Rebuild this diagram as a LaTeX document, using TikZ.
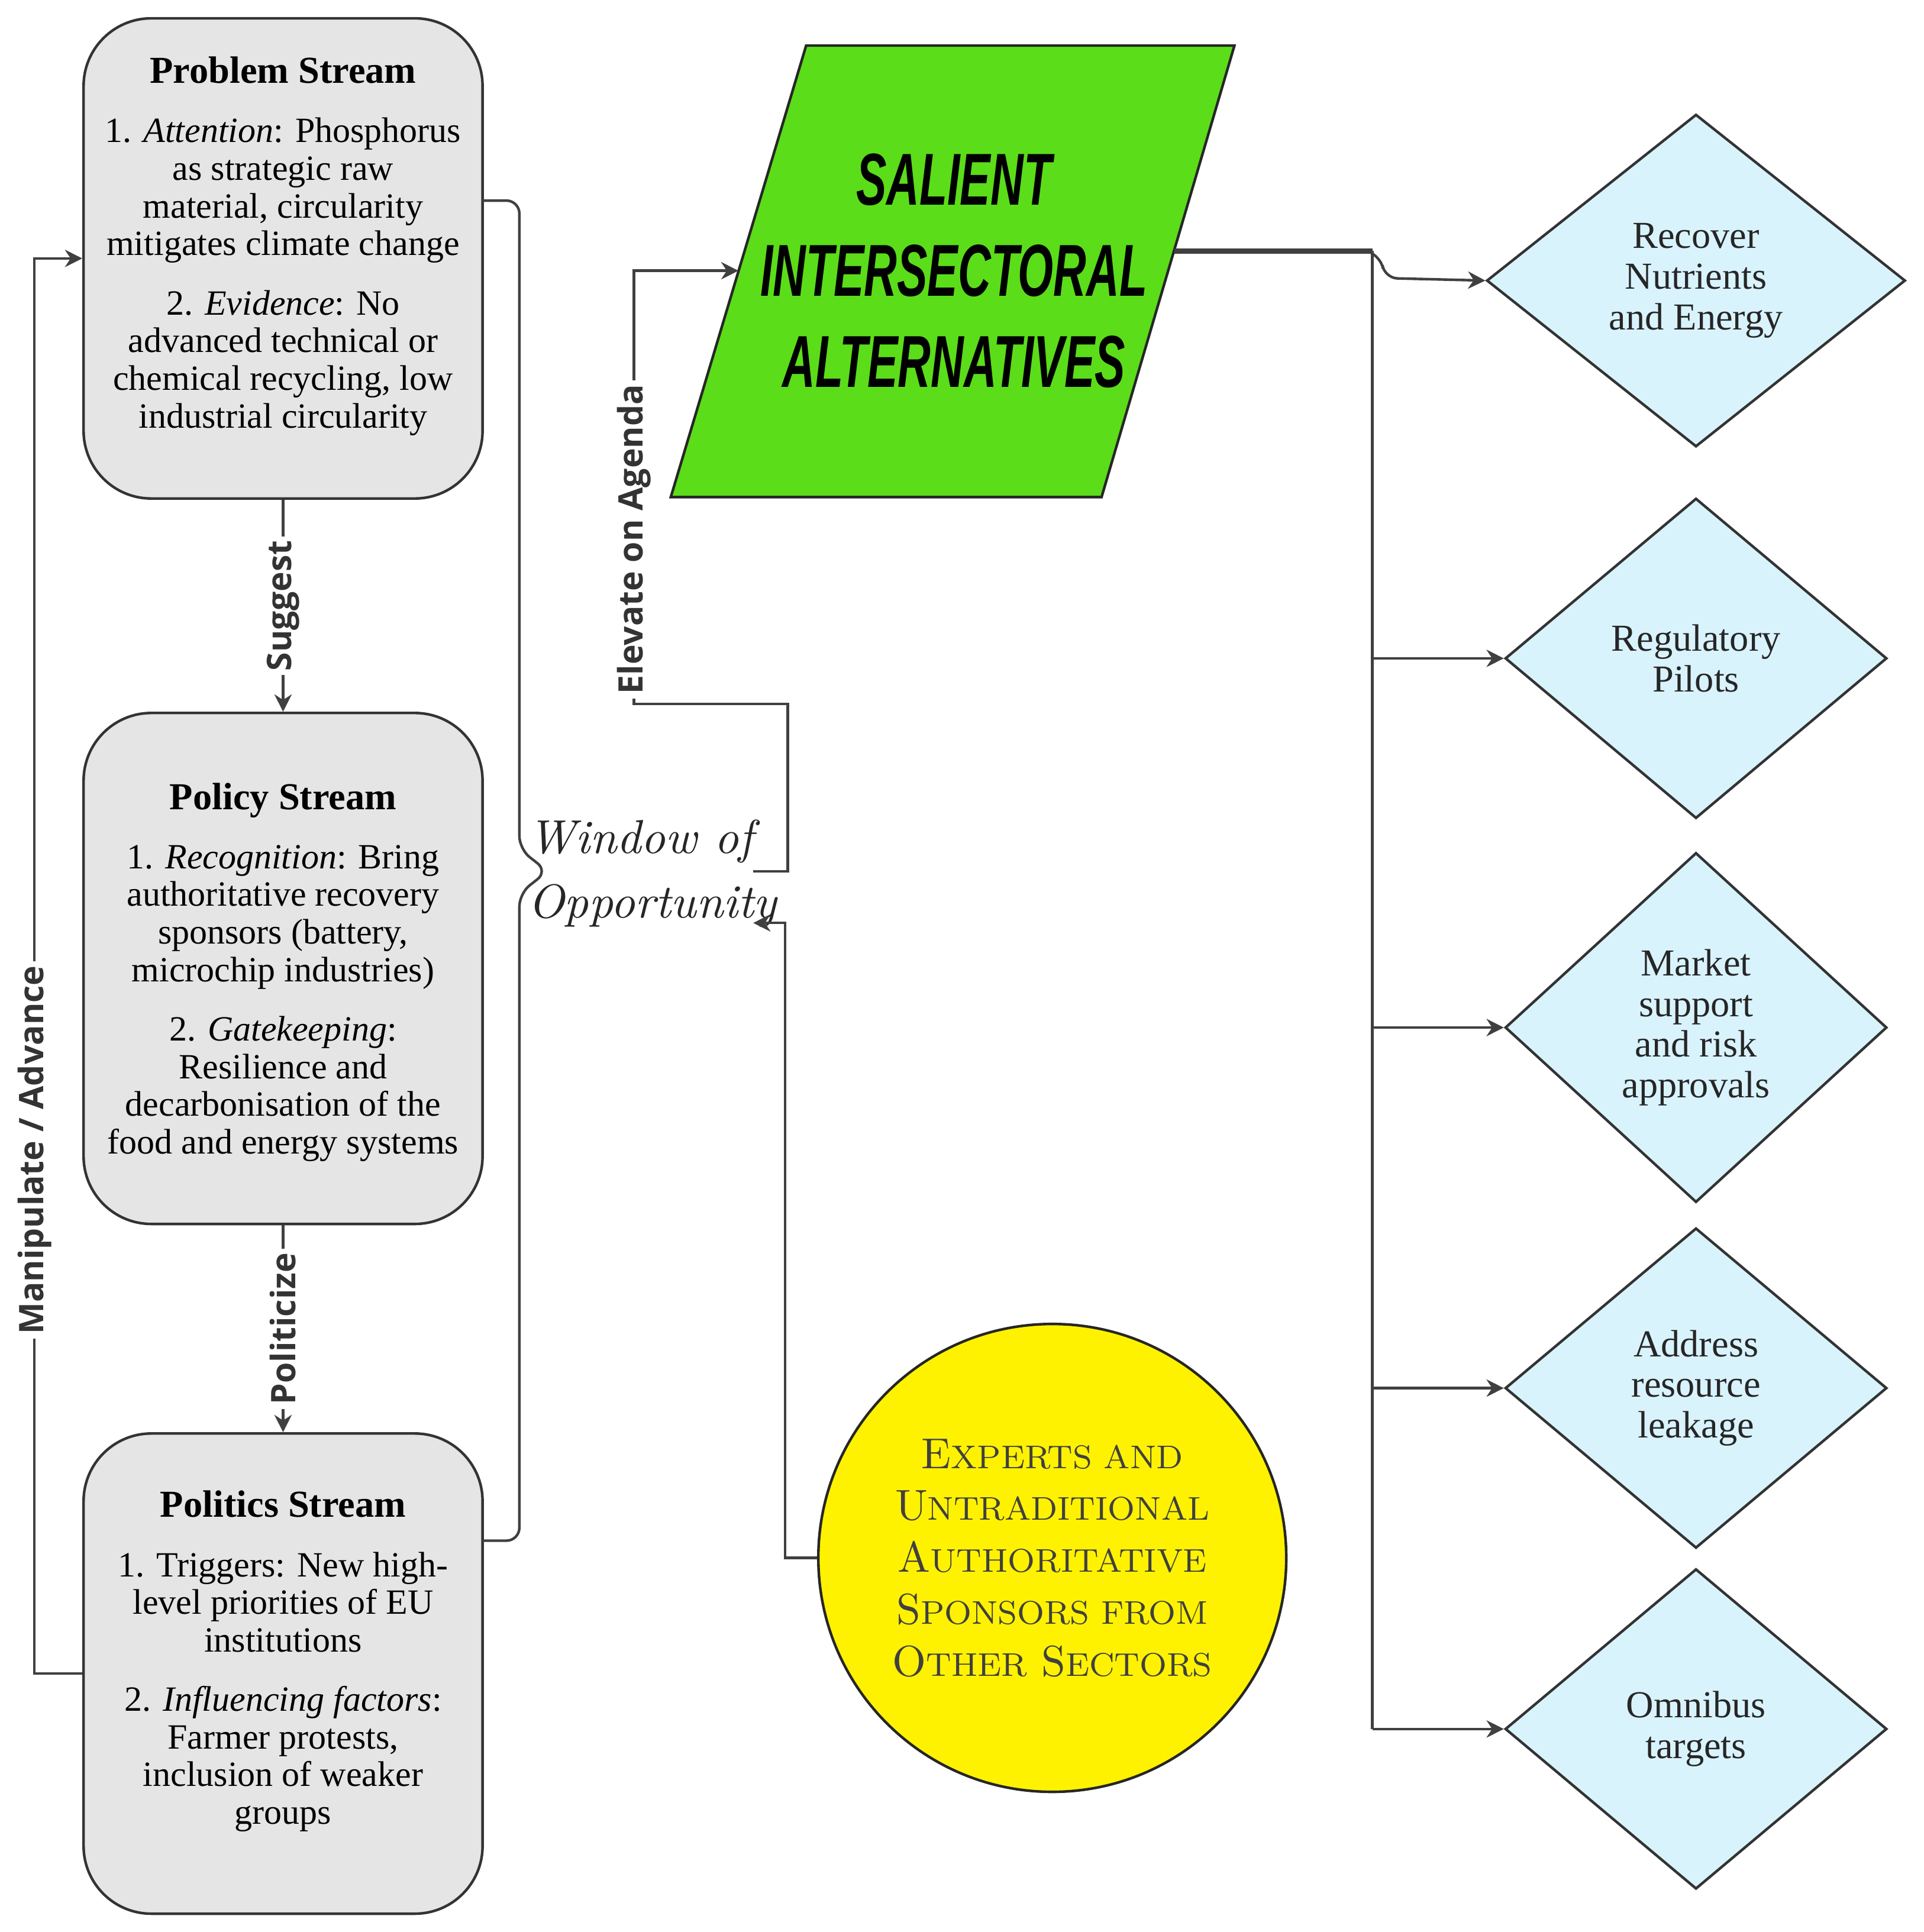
\documentclass[tikz,border=0pt]{standalone}
\usepackage{fontspec}
\setmainfont{Liberation Serif}
\newfontfamily\sansf{Open Sans}
\newfontfamily\hsans{Liberation Sans}
\newfontfamily\lmf{Latin Modern Roman}
\usetikzlibrary{shapes.geometric,arrows.meta}
\newcommand{\fsc}[2]{{\fontsize{10}{10}\selectfont #1}{\fontsize{7.6}{10}\selectfont #2}}
\begin{document}
\begin{tikzpicture}[x=0.01cm,y=-0.01cm,
  stream/.style={draw=black!80,fill=black!10,rounded corners=0.55cm,line width=0.6pt,minimum width=3.24cm,align=center,font=\fontsize{8.2}{8.7}\selectfont,inner sep=0},
  dia/.style={diamond,draw=black!80,fill=cyan!15,line width=0.6pt,inner sep=0,align=center,font=\fontsize{8.8}{9.4}\selectfont,text=black!85},
  conn/.style={draw=black!75,line width=0.6pt},
  arr/.style={conn,-{Stealth[length=4pt,width=4pt]}},
  lab/.style={font=\sansf\bfseries\fontsize{7.8}{8}\selectfont,fill=white,inner sep=1pt,rotate=90,text=black!80}]
\useasboundingbox (0,0) rectangle (1563,1570);

% streams
\node[stream,minimum height=3.9cm] (prob) at (230,210) {};
\node[align=center,font=\fontsize{8.2}{8.7}\selectfont] at (230,200) {{\bfseries\fontsize{8.8}{9}\selectfont Problem Stream}\\[5pt]
1. \textit{Attention}: Phosphorus\\as strategic raw\\material, circularity\\mitigates climate change\\[5pt]
2. \textit{Evidence}: No\\advanced technical or\\chemical recycling, low\\industrial circularity};
\node[stream,minimum height=4.15cm] (pol) at (230,787) {};
\node[align=center,font=\fontsize{8.2}{8.7}\selectfont] at (230,790) {{\bfseries\fontsize{8.8}{9}\selectfont Policy Stream}\\[5pt]
1. \textit{Recognition}: Bring\\authoritative recovery\\sponsors (battery,\\microchip industries)\\[5pt]
2. \textit{Gatekeeping}:\\Resilience and\\decarbonisation of the\\food and energy systems};
\node[stream,minimum height=3.9cm] (polit) at (230,1360) {};
\node[align=center,font=\fontsize{8.2}{8.7}\selectfont] at (230,1350) {{\bfseries\fontsize{8.8}{9}\selectfont Politics Stream}\\[5pt]
1. Triggers: New high-\\level priorities of EU\\institutions\\[5pt]
2. \textit{Influencing factors}:\\Farmer protests,\\inclusion of weaker\\groups};

\draw[arr] (prob.south) -- node[lab]{Suggest} (pol.north);
\draw[arr] (pol.south) -- node[lab]{Politicize} (polit.north);
\coordinate (ml) at (28,1360);
\draw[arr] (polit.west |- 0,1360) -- (ml) -- node[lab,pos=0.37]{Manipulate / Advance} (28,210) -- (prob.west |- 0,210);

% brace
\draw[conn,rounded corners=3pt] (392,163) -- (422,163) -- (422,690) -- (445,708) -- (422,726) -- (422,1252) -- (392,1252);

\node[font=\lmf\itshape\fontsize{11}{15}\selectfont,align=left,text=black!85] (win) at (530,710) {Window of\\Opportunity};

% parallelogram
\coordinate (pa) at (655,37); \coordinate (pb) at (1003,37);
\coordinate (pc) at (895,404); \coordinate (pd) at (545,404);
\draw[fill=green!55!lime!85!black!90,draw=black!85,line width=0.6pt] (pa)--(pb)--(pc)--(pd)--cycle;
\fill[green!60!black,opacity=0] (0,0);
\node[font=\hsans\bfseries\itshape\fontsize{17}{21}\selectfont,align=center] (sal) at (775,220) {\scalebox{0.62}[1]{SALIENT}\\\scalebox{0.62}[1]{INTERSECTORAL}\\\scalebox{0.62}[1]{ALTERNATIVES}};
\coordinate (pl) at (600,220);
\coordinate (pe) at (954,204);

\draw[arr] (612,708) -- (640,708) -- (640,572) -- (515,572) -- node[lab,pos=0.38]{Elevate on Agenda} (515,220) -- (pl);

% circle
\node[circle,draw=black!85,fill=yellow,minimum size=3.8cm,line width=0.6pt,align=center,text=black!75,font=\sansf] (exp) at (855,1266) {};
\node[align=center,text=black!75,font=\lmf] at (855,1266) {\fsc{E}{XPERTS AND}\\\fsc{U}{NTRADITIONAL}\\\fsc{A}{UTHORITATIVE}\\\fsc{S}{PONSORS FROM}\\\fsc{O}{THER} \fsc{S}{ECTORS}};
\draw[arr] (exp.west) -- (638,1266) -- (638,750) -- (612,750);

% diamonds
\node[dia,minimum width=3.4cm,minimum height=2.7cm] (d1) at (1378,228) {Recover\\Nutrients\\and Energy};
\node[dia,minimum width=3.1cm,minimum height=2.6cm] (d2) at (1378,535) {Regulatory\\Pilots};
\node[dia,minimum width=3.1cm,minimum height=2.84cm] (d3) at (1378,835) {Market\\support\\and risk\\approvals};
\node[dia,minimum width=3.1cm,minimum height=2.6cm] (d4) at (1378,1128) {Address\\resource\\leakage};
\node[dia,minimum width=3.1cm,minimum height=2.6cm] (d5) at (1378,1405) {Omnibus\\targets};

\draw[conn,line width=1.2pt] (pe) -- (1115,204);
\draw[arr,rounded corners=3pt] (1110,204) -- (1122,208) -- (1125,226) -- (d1.west);
\draw[conn] (1115,204) -- (1115,1405);
\draw[arr] (1115,535) -- (d2.west);
\draw[arr] (1115,835) -- (d3.west);
\draw[arr] (1115,1128) -- (d4.west);
\draw[arr] (1115,1405) -- (d5.west);
\end{tikzpicture}
\end{document}
